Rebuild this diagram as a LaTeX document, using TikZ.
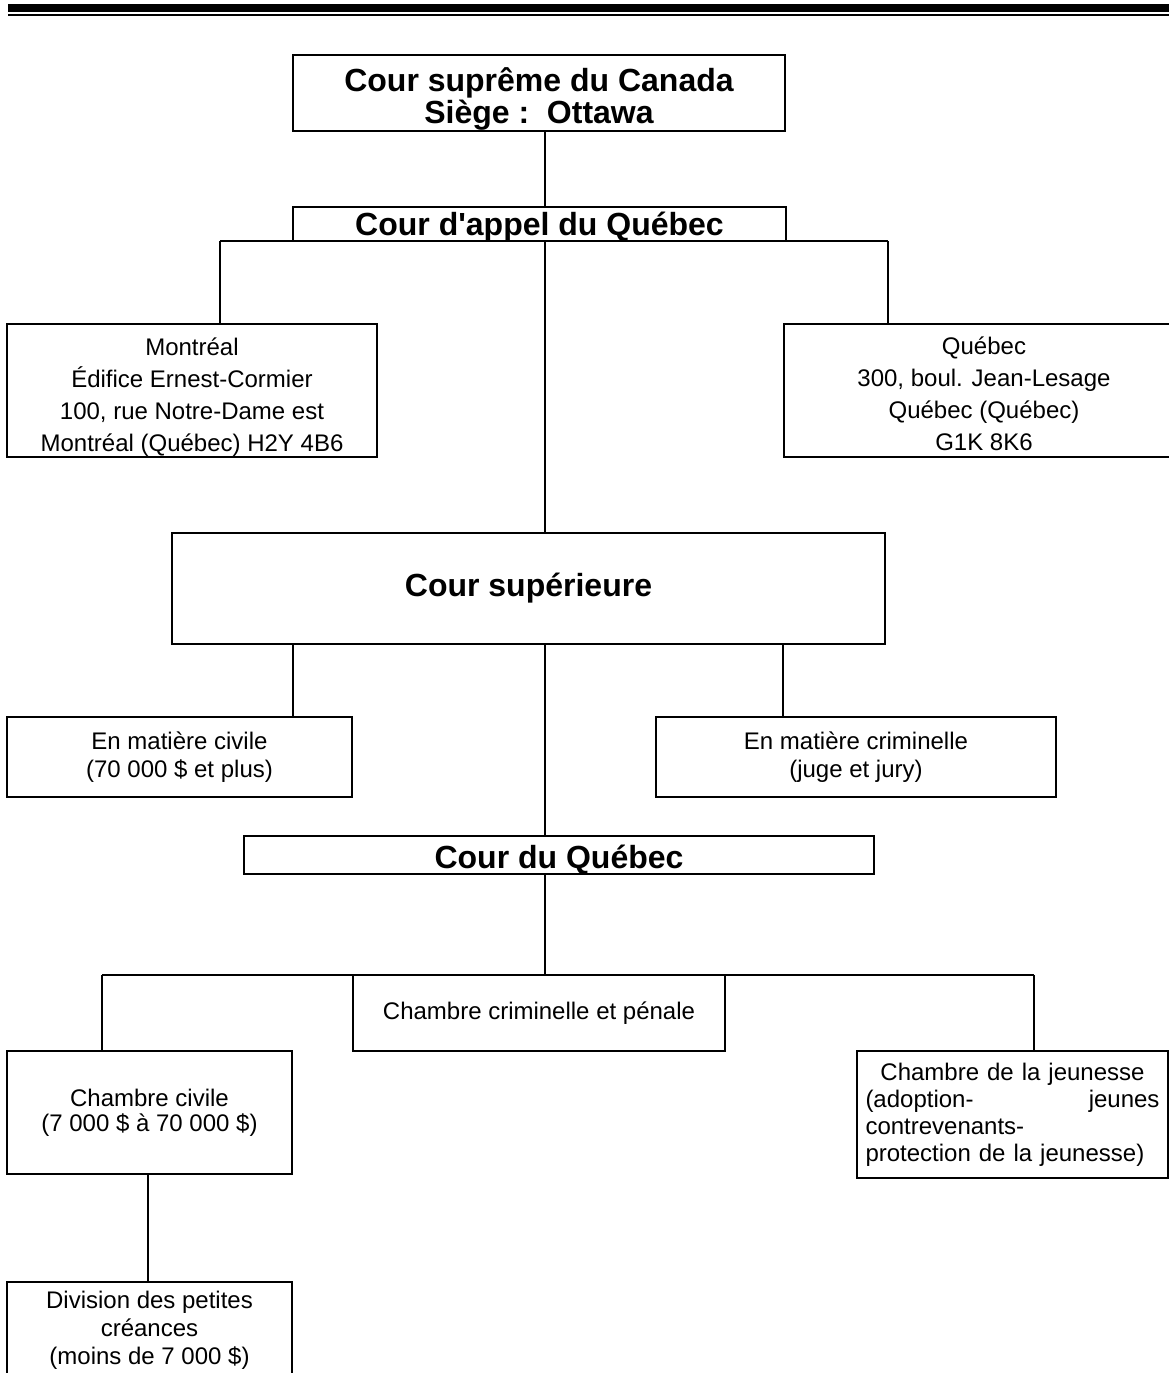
\documentclass[tikz,border=0pt]{standalone}
\usepackage{fontspec}
\setmainfont{Liberation Sans}

\begin{document}
\begin{tikzpicture}[x=0.5pt, y=-0.5pt, line width=1pt,
        box/.style={draw, line width=1pt, inner sep=0pt, align=center, font=\fontsize{12}{16}\selectfont},
        cour/.style={box, font=\fontsize{16}{16}\selectfont\bfseries}]
        \useasboundingbox (0,0) rectangle (1169,1373);
        \fill (8,4) rectangle (1169,12);
        \fill (8,14) rectangle (1169,16);

        \draw (539,93) node [cour, minimum width=246pt, minimum height=38pt] (sup) {\rule{0pt}{18pt}Cour suprême du Canada\\Siège :\ \ Ottawa};
        \draw (539.5,224) node [cour, minimum width=246.5pt, minimum height=17pt, text height=13pt, text depth=1.5pt] (appel) {Cour d\textquotesingle appel du Québec};
        \draw (192,390.5) node [box, minimum width=185pt, minimum height=66.5pt] (mtl) {\rule{0pt}{15pt}Montréal\\Édifice Ernest-Cormier\\100, rue Notre-Dame est\\Montréal (Québec) H2Y 4B6};
        \draw (984,390.5) node [box, minimum width=200pt, minimum height=66.5pt] (qc) {\rule{0pt}{15pt}Québec\\300, boul. Jean-Lesage\\Québec (Québec)\\\rule[-2.6pt]{0pt}{2.6pt}G1K 8K6};
        \draw (528.5,588.5) node [cour, minimum width=356.5pt, minimum height=55.5pt] (sup2) {Cour supérieure};
        \draw (179.5,757) node [box, font=\fontsize{12}{14}\selectfont, minimum width=172.5pt, minimum height=40pt] (civ) {En matière civile\\(70~000~\$ et plus)};
        \draw (856,757) node [box, font=\fontsize{12}{14}\selectfont, minimum width=200pt, minimum height=40pt] (crim) {En matière criminelle\\(juge et jury)};
        \draw (559,855) node [cour, minimum width=315pt, minimum height=19pt, text height=14pt, text depth=1pt] (cq) {Cour du Québec};
        \draw (539,1013) node [box, minimum width=186pt, minimum height=38pt] (chcrim) {Chambre criminelle et pénale};
        \draw (149.5,1112.5) node [box, font=\fontsize{12}{12.5}\selectfont, minimum width=142.5pt, minimum height=61.5pt] (chciv) {Chambre civile\\(7~000~\$ à 70~000~\$)};
        \draw (1012.5,1114.5) node [box, font=\fontsize{12}{13.5}\selectfont, align=left, text width=147pt, minimum width=155.5pt, minimum height=63.5pt] (jeun) {\makebox[147pt]{Chambre de la jeunesse}\\(adoption-\hfill jeunes\\contrevenants-\\protection de la jeunesse)};
        \draw (149.5,1330) node [box, font=\fontsize{12}{14}\selectfont, minimum width=142.5pt, minimum height=48pt] (div) {Division des petites\\créances\\(moins de 7~000~\$)};

        \coordinate (jA) at (545,241);
        \coordinate (jAl) at (220,241);
        \coordinate (jAr) at (888,241);
        \coordinate (dciv) at (293,644);
        \coordinate (dcrim) at (783,644);
        \coordinate (jQ) at (545,975);
        \coordinate (jQl) at (102,975);
        \coordinate (jQr) at (1034,975);
        \coordinate (ddiv) at (148,1174);

        \draw (sup.south -| jA) -- (appel.north -| jA);
        \draw (jAl) -- (jAr);
        \draw (jAl) -- (jAl |- mtl.north);
        \draw (jAr) -- (jAr |- qc.north);
        \draw (jA) -- (jA |- sup2.north);
        \draw (dciv) -- (dciv |- civ.north);
        \draw (dcrim) -- (dcrim |- crim.north);
        \draw (sup2.south -| jA) -- (cq.north -| jA);
        \draw (cq.south -| jA) -- (jQ);
        \draw (jQl) -- (jQr);
        \draw (jQl) -- (jQl |- chciv.north);
        \draw (jQr) -- (jQr |- jeun.north);
        \draw (ddiv) -- (ddiv |- div.north);
    \end{tikzpicture}
\end{document}
